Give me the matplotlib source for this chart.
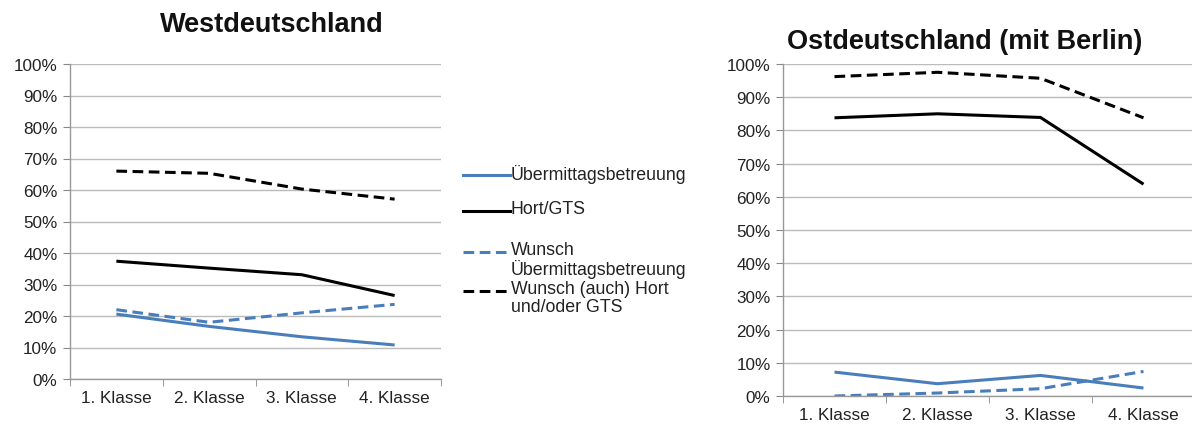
import matplotlib
matplotlib.use("Agg")
import matplotlib.pyplot as plt
from matplotlib.lines import Line2D
from matplotlib.ticker import FixedLocator, PercentFormatter

plt.rcParams['font.family'] = ['Liberation Sans', 'DejaVu Sans']

categories = ["1. Klasse", "2. Klasse", "3. Klasse", "4. Klasse"]
series_names = ["Übermittagsbetreuung", "Hort/GTS",
                "Wunsch\nÜbermittagsbetreuung", "Wunsch (auch) Hort\nund/oder GTS"]

west_uebermittag = [20.6, 16.7, 13.4, 10.8]
west_hort = [37.4, 35.2, 33.1, 26.5]
west_wunsch_uebermittag = [22.0, 18.0, 21.0, 23.7]
west_wunsch_hort = [66.0, 65.3, 60.3, 57.1]

ost_uebermittag = [7.2, 3.7, 6.2, 2.4]
ost_hort = [83.8, 85.0, 83.9, 63.8]
ost_wunsch_uebermittag = [0.0, 0.9, 2.2, 7.4]
ost_wunsch_hort = [96.2, 97.5, 95.7, 83.8]

BLUE = '#4A7EBB'
BLACK = '#000000'
styles = [dict(color=BLUE, ls='-'), dict(color=BLACK, ls='-'),
          dict(color=BLUE, ls=(0, (3.5, 1.8))), dict(color=BLACK, ls=(0, (3.5, 1.8)))]
LW = 2.2

W, H = 1192, 427
fig = plt.figure(figsize=(W / 100, H / 100), dpi=100)

def px_axes(l, r, t, b):
    return fig.add_axes([l / W, 1 - b / H, (r - l) / W, (b - t) / H])

def style_axes(ax, data):
    x = list(range(len(categories)))
    for vals, st in zip(data, styles):
        ax.plot(x, vals, lw=LW, solid_capstyle='butt', dash_capstyle='butt', **st)
    ax.set_xlim(-0.5, len(categories) - 0.5)
    ax.set_ylim(0, 100)
    ax.yaxis.set_major_locator(FixedLocator(range(0, 101, 10)))
    ax.yaxis.set_major_formatter(PercentFormatter(decimals=0))
    ax.set_xticks(x)
    ax.set_xticklabels(categories)
    ax.xaxis.set_minor_locator(FixedLocator([i - 0.5 for i in range(len(categories) + 1)]))
    ax.tick_params(axis='x', which='major', length=0, labelsize=12.3, pad=8, colors='#222222')
    ax.tick_params(axis='x', which='minor', length=5, color='#888888', direction='out')
    ax.tick_params(axis='y', length=5, color='#888888', labelsize=12.3, pad=4, labelcolor='#222222')
    ax.grid(axis='y', color='#BBBBBB', lw=1.0)
    ax.set_axisbelow(True)
    for s in ['top', 'right']:
        ax.spines[s].set_visible(False)
    for s in ['left', 'bottom']:
        ax.spines[s].set_color('#999999')
        ax.spines[s].set_linewidth(1.0)

ax1 = px_axes(70, 441, 65, 380)
style_axes(ax1, [west_uebermittag, west_hort, west_wunsch_uebermittag, west_wunsch_hort])
ax2 = px_axes(783, 1195, 65, 397)
style_axes(ax2, [ost_uebermittag, ost_hort, ost_wunsch_uebermittag, ost_wunsch_hort])

fig.text(272 / W, 1 - 25 / H, "Westdeutschland", ha='center', va='center',
         fontsize=19.5, fontweight='bold', color='#111111')
fig.text(965 / W, 1 - 42 / H, "Ostdeutschland (mit Berlin)", ha='center', va='center',
         fontsize=19.5, fontweight='bold', color='#111111')

# legend (manual layout, handle aligned with first text line)
leg_y = [176, 212, 253, 292]
for name, st, y in zip(series_names, styles, leg_y):
    fig.add_artist(Line2D([463 / W, 510 / W], [1 - y / H, 1 - y / H],
                          transform=fig.transFigure, lw=LW, **st))
    fig.text(511 / W, 1 - (y - 11) / H, name, ha='left', va='top', fontsize=12.8,
             color='#222222', linespacing=1.1)

fig.savefig("out.png", dpi=100)
